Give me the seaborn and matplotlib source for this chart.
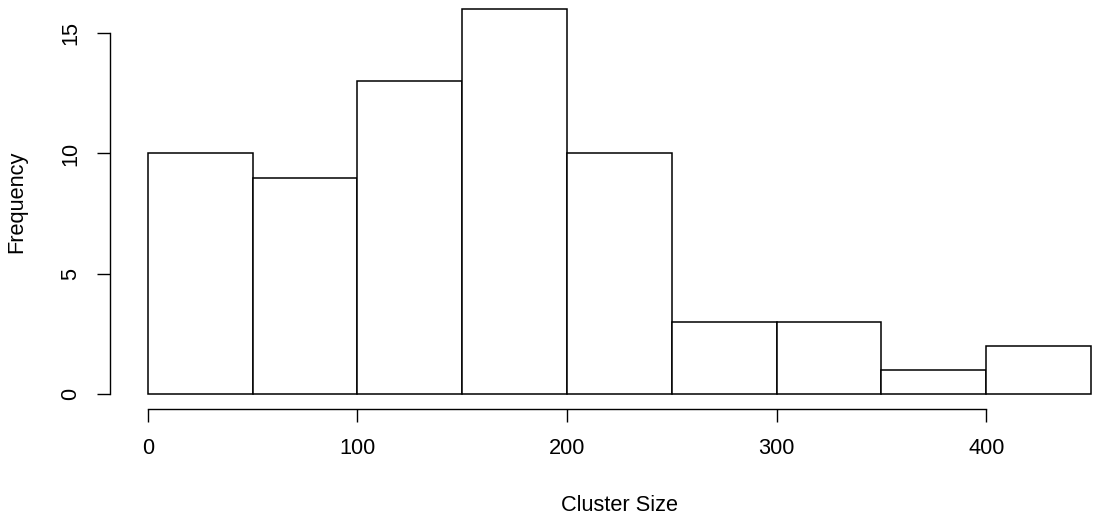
import matplotlib
matplotlib.use("Agg")
import matplotlib.pyplot as plt
import seaborn as sns

# Histogram data (bin edges and counts)
bin_edges = [0, 50, 100, 150, 200, 250, 300, 350, 400, 450]
counts    = [10, 9, 13, 16, 10, 3, 3, 1, 2]
bin_mids  = [(a + b) / 2 for a, b in zip(bin_edges[:-1], bin_edges[1:])]
x_ticks   = [0, 100, 200, 300, 400]
y_ticks   = [0, 5, 10, 15]

sns.set_style("white")
plt.rcParams['font.family'] = ['Liberation Sans', 'DejaVu Sans']
plt.rcParams['text.color'] = 'black'
plt.rcParams['axes.labelcolor'] = 'black'
plt.rcParams['xtick.color'] = 'black'
plt.rcParams['ytick.color'] = 'black'

fig = plt.figure(figsize=(10.93, 5.14), dpi=100)
ax = fig.add_axes([110 / 1093, 1 - 409.4 / 514, 1018.8 / 1093, 415.6 / 514])

sns.histplot(x=bin_mids, weights=counts, bins=bin_edges, ax=ax,
             color='white', edgecolor='black', linewidth=1.1, alpha=1)

ax.set_xlim(-18, 468)
ax.set_ylim(-0.64, 16.64)
for s in ['top', 'right']:
    ax.spines[s].set_visible(False)
ax.spines['left'].set_bounds(0, 15)
ax.spines['bottom'].set_bounds(0, 400)
for s in ['left', 'bottom']:
    ax.spines[s].set_color('black')
    ax.spines[s].set_linewidth(1.0)

ax.set_xticks(x_ticks)
ax.set_yticks(y_ticks)
ax.tick_params(axis='both', direction='out', length=9.5, width=1.0, color='black',
               labelcolor='black', labelsize=15.7, pad=11, bottom=True, left=True)
plt.setp(ax.get_yticklabels(), rotation=90, va='center')

ax.set_xlabel('Cluster Size', fontsize=15.7, labelpad=26, color='black')
ax.set_ylabel('Frequency', fontsize=15.7, labelpad=24, color='black')

fig.savefig("out.png", dpi=100)
